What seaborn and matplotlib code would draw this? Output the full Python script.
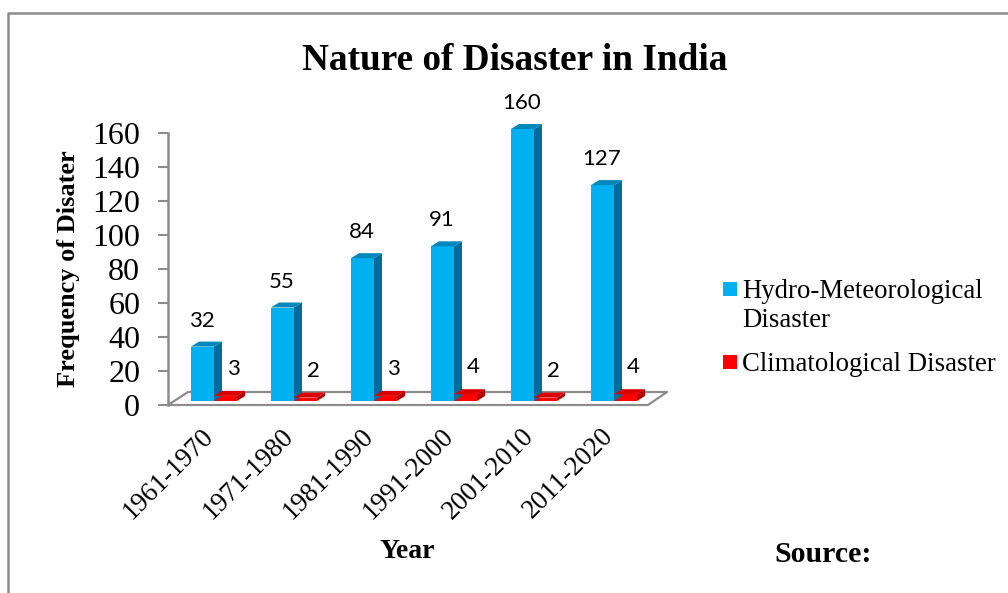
import matplotlib
matplotlib.use("Agg")
import matplotlib.pyplot as plt
import pandas as pd
import seaborn as sns
from matplotlib.lines import Line2D
from matplotlib.patches import Polygon, Rectangle
from matplotlib.transforms import Affine2D

decades = ["1961-1970", "1971-1980", "1981-1990", "1991-2000", "2001-2010", "2011-2020"]
hydro = [32, 55, 84, 91, 160, 127]
climate = [3, 2, 3, 4, 2, 4]
series_names = ["Hydro-Meteorological\nDisaster", "Climatological Disaster"]
y_ticks = [0, 20, 40, 60, 80, 100, 120, 140, 160]

FRONT = ["#00B0F0", "#FF0000"]
SIDE = ["#006F98", "#B00000"]
TOP = ["#0088BC", "#D80000"]
GREY = "#8C8C8C"
SERIF = "Liberation Serif"

W, H = 1008, 593
sns.set_theme(style="white")
plt.rcParams["font.family"] = SERIF

frame = pd.DataFrame({
    "decade": decades * 2,
    "count": hydro + climate,
    "kind": [series_names[0]] * 6 + [series_names[1]] * 6,
})

fig = plt.figure(figsize=(W / 100, H / 100), dpi=100, facecolor="white")
ax = fig.add_axes([168 / W, 1 - 405 / H, 480 / W, 272 / H], facecolor="none")

sns.barplot(data=frame, x="decade", y="count", hue="kind", palette=FRONT,
            width=0.575, gap=0, saturation=1, legend=False, ax=ax, zorder=3)
ax.set_xlim(-0.575, 5.425)
ax.set_ylim(0, 160)

# The bars stand slightly behind the front edge of the floor.
lift = Affine2D().translate(0, 4)
depth_x, depth_y = 8, 5
bars = list(ax.patches)
for i, bar in enumerate(bars):
    s = 0 if i < 6 else 1
    bar.set_transform(ax.transData + lift)
    bar.set_linewidth(0)
    bar.set_clip_on(False)
    (x0, y0), (x1, y1) = (ax.transData + lift).transform(
        [(bar.get_x(), 0), (bar.get_x() + bar.get_width(), bar.get_height())])
    side = [(x1, y0), (x1 + depth_x, y0 + depth_y), (x1 + depth_x, y1 + depth_y), (x1, y1)]
    top = [(x0, y1), (x1, y1), (x1 + depth_x, y1 + depth_y), (x0 + depth_x, y1 + depth_y)]
    for pts, col in ((side, SIDE[s]), (top, TOP[s])):
        ax.add_patch(Polygon(pts, closed=True, transform=None, facecolor=col,
                             edgecolor="none", zorder=3, clip_on=False))
    # Value labels sit above hydro bars and to the upper right of the small ones.
    value = hydro[i] if s == 0 else climate[i - 6]
    tx, ty = ((x0 + x1) / 2 - 1, y1 + 16) if s == 0 else ((x0 + x1) / 2 + 8, y1 + 17)
    ax.text(tx, ty, str(value), transform=None, ha="center", va="bottom",
            fontsize=16, family="Lato", color="black", zorder=5)

# Floor outline of the 3-D plot area, behind the bars.
floor_x = [168, 648, 667, 188, 168]
floor_y = [405, 405, 392, 392, 405]
ax.add_line(Line2D(floor_x, [H - y for y in floor_y], transform=None, color=GREY, lw=1.6,
                   zorder=1, clip_on=False))

sns.despine(ax=ax, top=True, right=True, bottom=True)
ax.spines["left"].set_color(GREY)
ax.spines["left"].set_linewidth(1.8)
ax.set_yticks(y_ticks)
ax.tick_params(axis="y", length=7, width=1.5, color=GREY, labelsize=23, pad=13,
               labelcolor="black", left=True)
ax.set_xticks(range(6))
ax.set_xticklabels(decades, rotation=45, ha="right", rotation_mode="anchor",
                   fontsize=19.5, color="black", family=SERIF)
ax.tick_params(axis="x", length=0, pad=22)
# Rotated decade labels end just left of their bar pair.
shift = Affine2D().translate(-13, 12)
for label in ax.get_xticklabels():
    label.set_transform(label.get_transform() + shift)
ax.set_xlabel("")
ax.set_ylabel("")

fig.text(515 / W, 1 - 60 / H, "Nature of Disaster in India", ha="center", va="center",
         fontsize=26.8, fontweight="bold", color="black")
fig.text(407 / W, 1 - 552 / H, "Year", ha="center", va="center",
         fontsize=20, fontweight="bold", color="black")
fig.text(68 / W, 1 - 269 / H, "Frequency of Disater", rotation=90, ha="center", va="center",
         fontsize=19, fontweight="bold", color="black")
fig.text(823 / W, 1 - 555 / H, "Source:", ha="center", va="center",
         fontsize=21.5, fontweight="bold", color="black")

# Legend keys align with the first line of each entry.
key_rows = [289, 362]
for name, color, row in zip(series_names, FRONT, key_rows):
    fig.add_artist(Rectangle((723 / W, 1 - (row + 7) / H), 14 / W, 14 / H, facecolor=color,
                             edgecolor="none", transform=fig.transFigure))
    fig.text(742 / W, 1 - (row - 10) / H, name, ha="left", va="top", fontsize=19.25,
             color="black", linespacing=1.2)

# Frame around the figure: only the top and left edges fall inside the canvas.
fig.add_artist(Line2D([8 / W, 8 / W, 1], [0, 1 - 13 / H, 1 - 13 / H], color=GREY, lw=1.8))

fig.savefig("out.png", dpi=100, facecolor="white")
